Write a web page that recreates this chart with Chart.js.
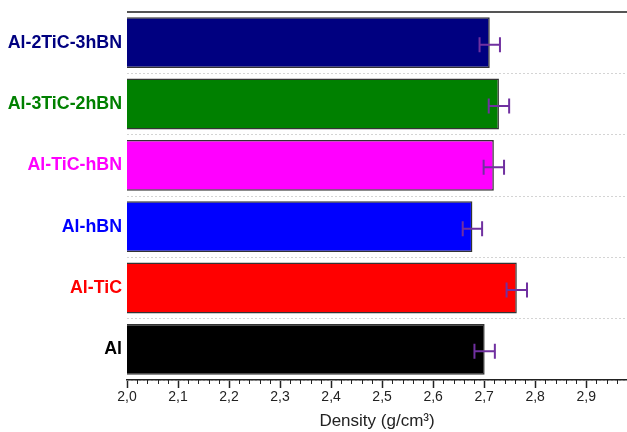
<!DOCTYPE html>
<html>
<head>
<meta charset="utf-8">
<script src="https://cdn.jsdelivr.net/npm/chart.js@4/dist/chart.umd.min.js"></script>
<style>
html,body{margin:0;padding:0;background:#fff;}
#wrap{width:627px;height:432px;position:relative;}
</style>
</head>
<body>
<div id="wrap"><canvas id="c" width="627" height="432"></canvas></div>
<script>
const categories = ["Al-2TiC-3hBN", "Al-3TiC-2hBN", "Al-TiC-hBN", "Al-hBN", "Al-TiC", "Al"];
const densities = [2.711, 2.729, 2.719, 2.677, 2.764, 2.701];
const errors = [0.020, 0.020, 0.020, 0.019, 0.020, 0.020];
const barColors = ["#000080", "#008000", "#FF00FF", "#0000FF", "#FF0000", "#000000"];
const labelColors = ["#000080", "#008000", "#FF00FF", "#0000FF", "#FF0000", "#000000"];
const xMin = 2.0, xMax = 2.98;
const majorTicks = [2.0, 2.1, 2.2, 2.3, 2.4, 2.5, 2.6, 2.7, 2.8, 2.9];
const minorTicks = [2.02,2.04,2.06,2.08,2.12,2.14,2.16,2.18,2.22,2.24,2.26,2.28,2.32,2.34,2.36,2.38,2.42,2.44,2.46,2.48,2.52,2.54,2.56,2.58,2.62,2.64,2.66,2.68,2.72,2.74,2.76,2.78,2.82,2.84,2.86,2.88,2.92,2.94,2.96];

const extras = {
  id: 'extras',
  afterDatasetsDraw(chart) {
    const ctx = chart.ctx;
    const xs = chart.scales.x, ys = chart.scales.y;
    const area = chart.chartArea;
    ctx.save();
    // top frame line
    ctx.strokeStyle = '#555';
    ctx.lineWidth = 2;
    ctx.beginPath();
    ctx.moveTo(area.left, area.top);
    ctx.lineTo(area.right, area.top);
    ctx.stroke();
    // minor ticks
    ctx.strokeStyle = '#222';
    ctx.lineWidth = 1;
    minorTicks.forEach(v => {
      const px = Math.round(xs.getPixelForValue(v)) + 0.5;
      ctx.beginPath();
      ctx.moveTo(px, area.bottom);
      ctx.lineTo(px, area.bottom + 4);
      ctx.stroke();
    });
    // error bars
    ctx.strokeStyle = '#7030A0';
    ctx.lineWidth = 2;
    densities.forEach((v, i) => {
      const y = ys.getPixelForValue(i) + 2;
      const x1 = xs.getPixelForValue(v - errors[i]);
      const x2 = xs.getPixelForValue(v + errors[i]);
      ctx.beginPath();
      ctx.moveTo(x1, y); ctx.lineTo(x2, y);
      ctx.moveTo(x1, y - 7.5); ctx.lineTo(x1, y + 7.5);
      ctx.moveTo(x2, y - 7.5); ctx.lineTo(x2, y + 7.5);
      ctx.stroke();
    });
    ctx.restore();
  }
};

new Chart(document.getElementById('c'), {
  type: 'bar',
  data: {
    labels: categories,
    datasets: [{
      data: densities,
      backgroundColor: barColors,
      borderColor: '#333',
      borderWidth: 1.5,
      borderSkipped: false,
      barPercentage: 0.83,
      categoryPercentage: 1.0
    }]
  },
  options: {
    indexAxis: 'y',
    responsive: false,
    animation: false,
    events: [],
    layout: { padding: { top: 12, right: 0, bottom: 0, left: 0 } },
    plugins: { legend: { display: false }, tooltip: { enabled: false } },
    scales: {
      x: {
        type: 'linear',
        min: xMin, max: xMax,
        afterBuildTicks(scale) { scale.ticks = majorTicks.map(v => ({ value: v })); },
        afterFit(scale) { scale.height = 52; scale.paddingRight = 0; scale.paddingLeft = 0; },
        border: { display: true, color: '#222', width: 1.5 },
        grid: { display: true, drawOnChartArea: false, drawTicks: true, tickLength: 8, tickColor: '#222', tickWidth: 1.5 },
        ticks: {
          padding: 1,
          color: '#222',
          font: { family: 'Liberation Sans, Arial, sans-serif', size: 14 },
          callback: (v) => Number(v).toFixed(1).replace('.', ',')
        },
        title: {
          display: true,
          text: 'Density (g/cm³)',
          color: '#222',
          font: { family: 'Liberation Sans, Arial, sans-serif', size: 17 },
          padding: { top: 0, bottom: 0 }
        }
      },
      y: {
        type: 'category',
        offset: true,
        afterFit(scale) { scale.width = 127; scale.paddingTop = 0; scale.paddingBottom = 0; },
        border: { display: false, dash: [2, 2] },
        grid: { display: true, offset: true, drawTicks: false, color: '#d4d4d4', lineWidth: 1 },
        ticks: {
          padding: 5,
          color: (c) => labelColors[c.index],
          font: { family: 'Liberation Sans, Arial, sans-serif', size: 17.8, weight: 'bold' }
        }
      }
    }
  },
  plugins: [extras]
});
</script>
</body>
</html>
